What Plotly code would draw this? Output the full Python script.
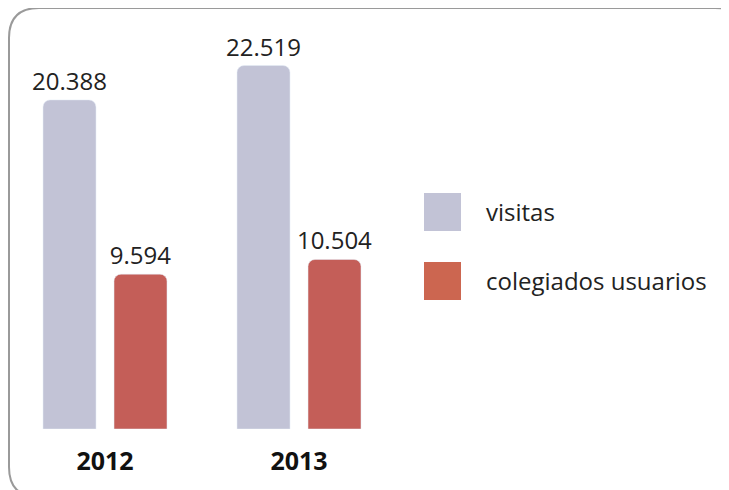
import plotly.graph_objects as go

years = ["2012", "2013"]
visitas = [20388, 22519]
colegiados = [9594, 10504]
series_names = ["visitas", "colegiados usuarios"]

W, H = 729, 490
OFF = 8  # page body margin offset
ML, MR, MT, MB = 0, 341, 12, 69
PW, PH = W - ML - MR, H - MT - MB
YMAX = 25340

def fmt(v):
    return f"{v:,}".replace(",", ".")

def px2x(px):
    return (px - OFF - ML) / PW

def py2y(py):
    return (H - MB - (py - OFF)) / PH

C_VIS = "#C2C3D6"
C_COL = "#C45E58"
C_COL_LEG = "#CC6650"
FONT = "Open Sans"

fig = go.Figure()
for vals, name, col in [(visitas, series_names[0], C_VIS), (colegiados, series_names[1], C_COL)]:
    fig.add_trace(go.Bar(x=years, y=vals, name=name, marker=dict(color=col, cornerradius=7),
                         text=[fmt(v) for v in vals], textposition="outside", cliponaxis=False,
                         constraintext="none",
                         textfont=dict(size=24, color="#222", family=FONT)))

# rounded border
x0, x1, y0, y1, r = 9, 745, 8, 497, 30
path = (f"M {px2x(x0)},{py2y(y0 + r)} "
        f"Q {px2x(x0)},{py2y(y0)} {px2x(x0 + r)},{py2y(y0)} "
        f"L {px2x(x1 - r)},{py2y(y0)} "
        f"Q {px2x(x1)},{py2y(y0)} {px2x(x1)},{py2y(y0 + r)} "
        f"L {px2x(x1)},{py2y(y1 - r)} "
        f"Q {px2x(x1)},{py2y(y1)} {px2x(x1 - r)},{py2y(y1)} "
        f"L {px2x(x0 + r)},{py2y(y1)} "
        f"Q {px2x(x0)},{py2y(y1)} {px2x(x0)},{py2y(y1 - r)} Z")
shapes = [dict(type="path", xref="paper", yref="paper", path=path,
               line=dict(color="#9a9a9a", width=2), fillcolor="rgba(0,0,0,0)", layer="below")]

# custom legend
annotations = []
for i, (name, col) in enumerate(zip(series_names, [C_VIS, C_COL_LEG])):
    top = 193 + i * 69
    shapes.append(dict(type="rect", xref="paper", yref="paper",
                       x0=px2x(424), x1=px2x(461), y0=py2y(top + 38), y1=py2y(top),
                       fillcolor=col, line=dict(width=0)))
    annotations.append(dict(xref="paper", yref="paper", x=px2x(484), y=py2y(top + 18),
                            text=name, showarrow=False, xanchor="left", yanchor="middle",
                            font=dict(size=24, color="#222", family=FONT)))

fig.update_layout(
    width=W, height=H, margin=dict(l=ML, r=MR, t=MT, b=MB),
    paper_bgcolor="white", plot_bgcolor="white",
    barmode="group", bargap=0.268, bargroupgap=0.254,
    showlegend=False, shapes=shapes, annotations=annotations,
    font=dict(family=FONT, color="#222"),
)
fig.update_xaxes(range=[-0.5, 1.5], showgrid=False, zeroline=False, showline=False,
                 ticks="outside", ticklen=10, tickcolor="rgba(0,0,0,0)",
                 tickfont=dict(size=25, color="#111", family=FONT, weight="bold"))
fig.update_yaxes(range=[0, YMAX], visible=False, showgrid=False, zeroline=False)

fig.write_html("out.html")
